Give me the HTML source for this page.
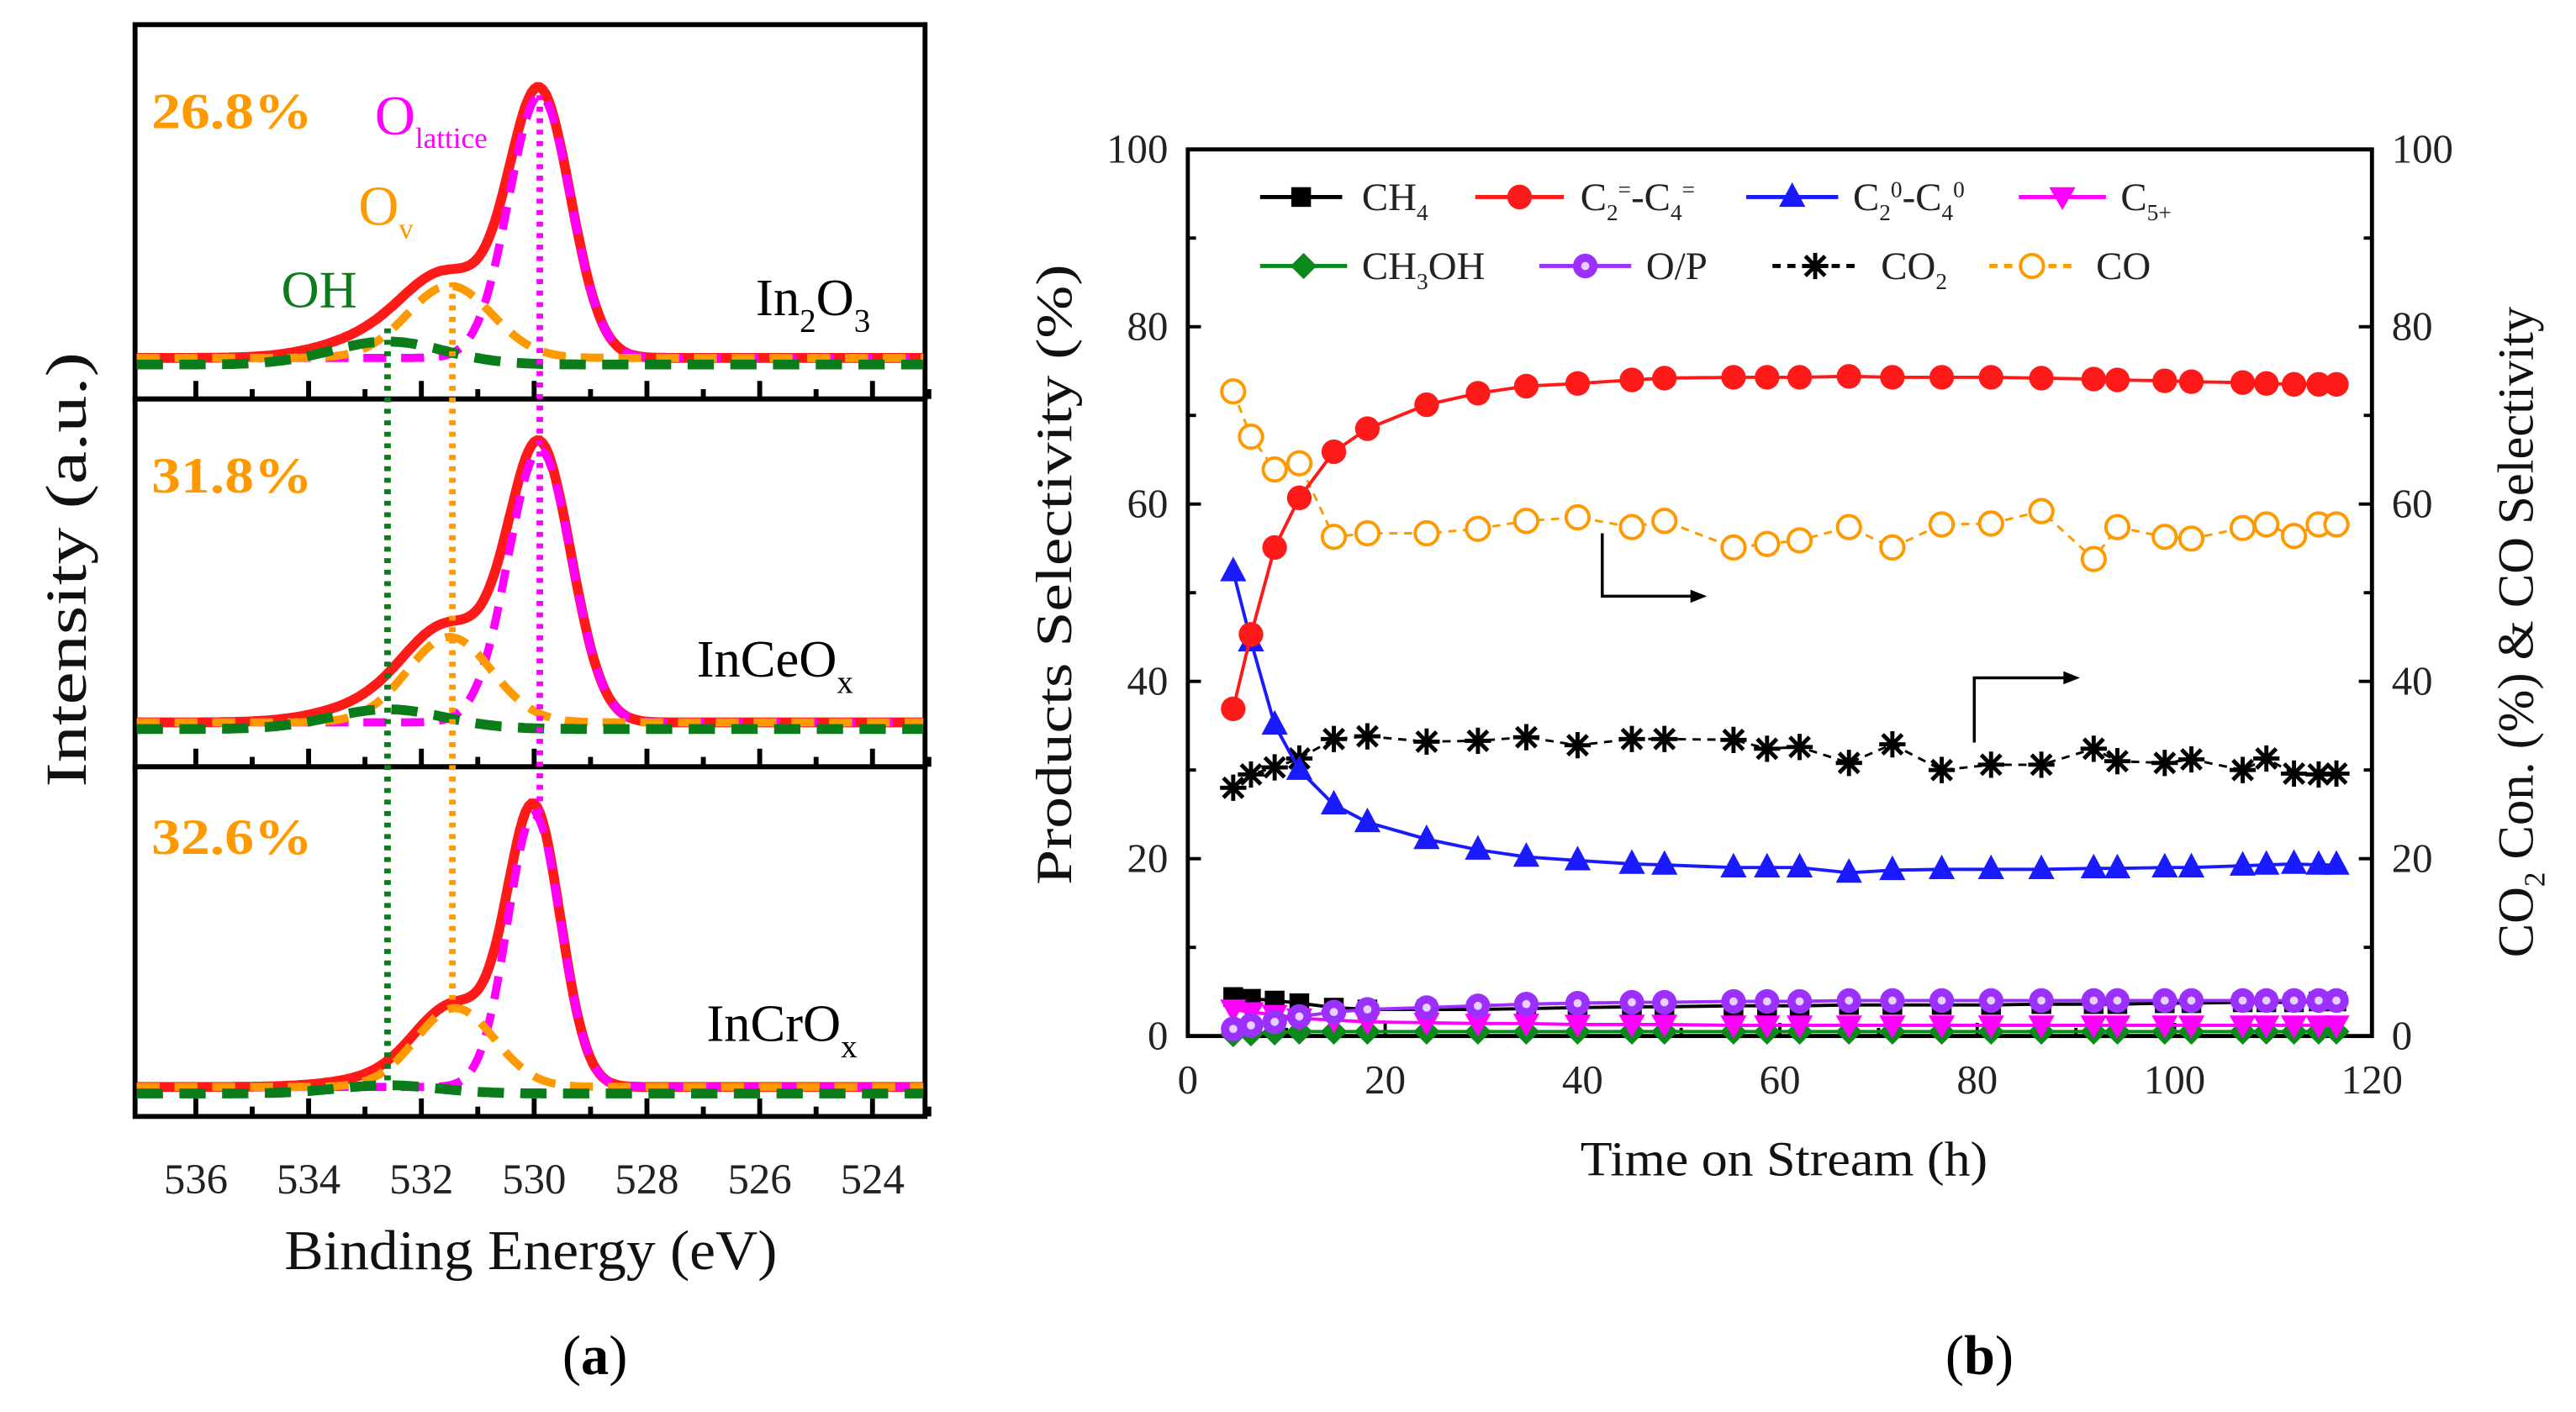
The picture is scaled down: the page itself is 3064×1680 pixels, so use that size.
<!DOCTYPE html>
<html><head><meta charset="utf-8"><style>
html,body{margin:0;padding:0;background:#fff}
svg{display:block}
text{font-family:"Liberation Serif",serif}
</style></head><body>
<svg id="fig" width="3064" height="1680" viewBox="0 0 1568 860" xmlns="http://www.w3.org/2000/svg">
<g id="pa"></g>
<g id="pb"></g>
</svg>
<script>
// ===== Panel (a) data =====
const xpsSamples = ["In2O3","InCeOx","InCrOx"];
const xpsPercents = ["26.8%","31.8%","32.6%"];
const latticeCenter = [529.9, 529.9, 530.0];
const latticeHeight = [160, 166, 166];
const latticeSigma = [0.55, 0.56, 0.47];
const ovCenter = [531.5, 531.5, 531.4];
const ovHeight = [44, 52, 48];
const ovSigma = [0.75, 0.75, 0.7];
const ohCenter = [532.6, 532.6, 532.6];
const ohHeight = [14, 12, 5];
const ohSigma = [1.0, 1.0, 0.9];
const xpsTicks = [536,534,532,530,528,526,524];
// ===== Panel (b) data =====
const timeH = [4.6,6.4,8.8,11.3,14.8,18.2,24.2,29.4,34.3,39.5,45,48.3,55.3,58.7,62,67,71.4,76.4,81.4,86.5,91.8,94.2,99,101.7,106.9,109.3,112.1,114.6,116.4];
const c2c4Olefin = [36.9,45.3,55.1,60.7,65.9,68.5,71.2,72.5,73.3,73.6,74.0,74.2,74.3,74.3,74.3,74.4,74.3,74.3,74.3,74.2,74.1,74.0,73.9,73.8,73.7,73.6,73.5,73.5,73.5];
const c2c4Paraffin = [52.4,44.5,35.1,30.0,26.1,24.1,22.2,21.0,20.2,19.8,19.4,19.3,19.0,19.0,19.0,18.4,18.7,18.8,18.8,18.8,18.9,18.9,19.0,19.0,19.2,19.3,19.4,19.3,19.3];
const coSel = [72.7,67.6,63.9,64.6,56.3,56.7,56.7,57.2,58.1,58.5,57.4,58.1,55.1,55.5,55.9,57.4,55.1,57.7,57.8,59.2,53.8,57.4,56.3,56.1,57.3,57.7,56.4,57.7,57.7];
const co2Conv = [28.0,29.5,30.3,31.3,33.5,33.8,33.2,33.3,33.7,32.8,33.5,33.5,33.4,32.4,32.6,30.8,32.9,30.0,30.6,30.6,32.4,31.0,30.8,31.2,30.0,31.3,29.6,29.5,29.6];
const ch4Sel = [4.4,4.2,4.0,3.7,3.2,3.0,3.0,3.0,3.1,3.2,3.3,3.3,3.4,3.4,3.4,3.5,3.5,3.5,3.5,3.6,3.6,3.6,3.7,3.7,3.8,3.8,3.8,3.9,3.9];
const opRatio = [0.8,1.2,1.6,2.2,2.7,3.0,3.2,3.4,3.6,3.7,3.8,3.8,3.9,3.9,3.9,4.0,4.0,4.0,4.0,4.0,4.0,4.0,4.0,4.0,4.0,4.0,4.0,4.0,4.0];
const c5Sel = [3.0,2.7,2.4,2.0,1.8,1.6,1.5,1.4,1.4,1.3,1.3,1.3,1.2,1.2,1.2,1.2,1.2,1.2,1.2,1.2,1.2,1.2,1.2,1.2,1.2,1.2,1.2,1.2,1.2];
const ch3ohSel = [0.2,0.3,0.4,0.5,0.5,0.5,0.5,0.5,0.5,0.5,0.5,0.5,0.5,0.5,0.5,0.5,0.5,0.5,0.5,0.5,0.5,0.5,0.5,0.5,0.5,0.5,0.5,0.5,0.5];
const bXTicks = [0,20,40,60,80,100,120];
const bYTicks = [0,20,40,60,80,100];

const NS="http://www.w3.org/2000/svg";
function mk(parent,tag,attrs,txt){const e=document.createElementNS(NS,tag);for(const k in attrs)e.setAttribute(k,attrs[k]);if(attrs.textLength)e.setAttribute('lengthAdjust','spacingAndGlyphs');if(txt!==undefined)e.textContent=txt;parent.appendChild(e);return e;}

// ---------- Panel (a) ----------
const pa=document.getElementById('pa');
const aL=82,aR=563,aTop=15;
const subTop=[15,243,467], subBot=[243,467,680], baseY=[218,440,662];
const ex=E=>119+(536-E)*(412/12);
const g=(E,c,h,s)=>h*Math.exp(-((E-c)*(E-c))/(2*s*s));
function pathFrom(fn){let d="";for(let E=537.05;E>=523.1;E-=0.05){d+=(d?"L":"M")+ex(E).toFixed(1)+","+fn(E).toFixed(1);}return d;}
for(let i=0;i<3;i++){
  const by=baseY[i];
  const box=mk(pa,'rect',{x:aL,y:subTop[i],width:aR-aL,height:subBot[i]-subTop[i],fill:'none',stroke:'#000','stroke-width':3});
  
  
  xpsTicks.forEach(t=>{const l=mk(pa,'line',{x1:ex(t),x2:ex(t),y1:subBot[i],y2:subBot[i]-11,stroke:'#000','stroke-width':3});
    
    if(t>523.5){const m=mk(pa,'line',{x1:ex(t-1),x2:ex(t-1),y1:subBot[i],y2:subBot[i]-6,stroke:'#000','stroke-width':3});
    }});
  const fLat=E=>by-g(E,latticeCenter[i],latticeHeight[i],latticeSigma[i]);
  const fOv=E=>by-g(E,ovCenter[i],ovHeight[i],ovSigma[i]);
  const fOh=E=>by+4-g(E,ohCenter[i],ohHeight[i],ohSigma[i]);
  const fTot=E=>by-g(E,latticeCenter[i],latticeHeight[i],latticeSigma[i])-g(E,ovCenter[i],ovHeight[i],ovSigma[i])-g(E,ohCenter[i],ohHeight[i],ohSigma[i]);
  const raw=mk(pa,'path',{d:pathFrom(fTot),fill:'none',stroke:'#000','stroke-width':2});
  
  const tot=mk(pa,'path',{d:pathFrom(fTot),fill:'none',stroke:'#ff1a1a','stroke-width':6});
  
  const lat=mk(pa,'path',{d:pathFrom(fLat),fill:'none',stroke:'#ff00ff','stroke-width':5,'stroke-dasharray':'14 9'});
  
  const ov=mk(pa,'path',{d:pathFrom(fOv),fill:'none',stroke:'#ff9900','stroke-width':5,'stroke-dasharray':'14 9'});
  
  const oh=mk(pa,'path',{d:pathFrom(fOh),fill:'none',stroke:'#0a7d1a','stroke-width':6,'stroke-dasharray':'16 10'});
  
  const pc=mk(pa,'text',{x:92,y:[78,300,520][i],fill:'#ff9900','font-size':31,'font-weight':'bold',textLength:98},xpsPercents[i]);
  
}
// dotted guides
[[532.6,'#0a7d1a',200],[531.45,'#ff9900',172],[529.9,'#ff00ff',58]].forEach((d,k)=>{
  const l=mk(pa,'line',{x1:ex(d[0]),x2:ex(d[0]),y1:d[2],y2:[660,615,495][k],stroke:d[1],'stroke-width':4,'stroke-dasharray':'3 4'});
  
});
let t;
t=mk(pa,'text',{x:228,y:82,fill:'#ff00ff','font-size':34});t.innerHTML='O<tspan font-size="18" dy="8">lattice</tspan>';

t=mk(pa,'text',{x:218,y:137,fill:'#ff9900','font-size':34});t.innerHTML='O<tspan font-size="18" dy="8">v</tspan>';

t=mk(pa,'text',{x:171,y:187,fill:'#0a7d1a','font-size':32},'OH');

t=mk(pa,'text',{x:460,y:192,fill:'#000','font-size':32});t.innerHTML='In<tspan font-size="20" dy="10">2</tspan><tspan dy="-10">O</tspan><tspan font-size="20" dy="10">3</tspan>';

t=mk(pa,'text',{x:424,y:412,fill:'#000','font-size':32});t.innerHTML='InCeO<tspan font-size="20" dy="10">x</tspan>';

t=mk(pa,'text',{x:430,y:634,fill:'#000','font-size':32});t.innerHTML='InCrO<tspan font-size="20" dy="10">x</tspan>';

xpsTicks.forEach(v=>{const e=mk(pa,'text',{x:ex(v),y:727,'text-anchor':'middle','font-size':26,fill:'#222'},String(v));
  });
t=mk(pa,'text',{x:323,y:773,'text-anchor':'middle','font-size':34,fill:'#111',textLength:300},'Binding Energy (eV)');

t=mk(pa,'text',{x:0,y:0,'text-anchor':'middle','font-size':35,fill:'#111',textLength:265,transform:'translate(52,347) rotate(-90)'},'Intensity (a.u.)');

t=mk(pa,'text',{x:362,y:837,'text-anchor':'middle','font-size':34,fill:'#000'});t.innerHTML='(<tspan font-weight="bold">a</tspan>)';


// ---------- Panel (b) ----------
const pb=document.getElementById('pb');
const bL=723,bR=1444,bT=91,bB=631;
const xs=h=>bL+h*(bR-bL)/120;
const ys=v=>bB-v*(bB-bT)/100;
const fr=mk(pb,'rect',{x:bL,y:bT,width:bR-bL,height:bB-bT,fill:'none',stroke:'#000','stroke-width':2.5});

bXTicks.forEach(v=>{const l=mk(pb,'line',{x1:xs(v),x2:xs(v),y1:bB,y2:bB-8,stroke:'#000','stroke-width':2});
  
  if(v<120){const m=mk(pb,'line',{x1:xs(v+10),x2:xs(v+10),y1:bB,y2:bB-5,stroke:'#000','stroke-width':2});}
  const e=mk(pb,'text',{x:xs(v),y:bB+35,'text-anchor':'middle','font-size':25,fill:'#222'},String(v));
  });
bYTicks.forEach(v=>{[[bL,1],[bR,-1]].forEach(s=>{const l=mk(pb,'line',{x1:s[0],x2:s[0]+8*s[1],y1:ys(v),y2:ys(v),stroke:'#000','stroke-width':2});
  
  if(v<100){const m=mk(pb,'line',{x1:s[0],x2:s[0]+5*s[1],y1:ys(v+10),y2:ys(v+10),stroke:'#000','stroke-width':2});}});
  const e=mk(pb,'text',{x:bL-12,y:ys(v)+8,'text-anchor':'end','font-size':25,fill:'#222'},String(v));
  
  const r=mk(pb,'text',{x:bR+12,y:ys(v)+8,'text-anchor':'start','font-size':25,fill:'#222'},String(v));
  });

function marker(parent,type,cx,cy,color,name){
  let e;
  if(type==='square')e=mk(parent,'rect',{x:cx-6,y:cy-6,width:12,height:12,fill:color});
  else if(type==='circle')e=mk(parent,'circle',{cx,cy,r:7.5,fill:color});
  else if(type==='tri')e=mk(parent,'polygon',{points:`${cx},${cy-9} ${cx-8},${cy+6} ${cx+8},${cy+6}`,fill:color});
  else if(type==='dtri')e=mk(parent,'polygon',{points:`${cx},${cy+8} ${cx-8},${cy-6} ${cx+8},${cy-6}`,fill:color});
  else if(type==='diamond')e=mk(parent,'polygon',{points:`${cx},${cy-8} ${cx+8},${cy} ${cx},${cy+8} ${cx-8},${cy}`,fill:color});
  else if(type==='ocircle')e=mk(parent,'circle',{cx,cy,r:7,fill:'#fff',stroke:color,'stroke-width':2});
  else if(type==='pcircle'){e=mk(parent,'circle',{cx,cy,r:7.5,fill:color});const h=mk(parent,'circle',{cx:cx,cy:cy,r:2.5,fill:'#e8d0ff'});}
  else if(type==='star'){e=mk(parent,'path',{d:`M${cx-8},${cy}L${cx+8},${cy}M${cx},${cy-8}L${cx},${cy+8}M${cx-6},${cy-6}L${cx+6},${cy+6}M${cx-6},${cy+6}L${cx+6},${cy-6}`,stroke:color,'stroke-width':2.5});}
  
  
}
const seriesDefs=[
 {vals:ch4Sel,color:'#000',m:'square',dash:null,w:2,name:'ch4'},
 {vals:ch3ohSel,color:'#0a8a1a',m:'diamond',dash:null,w:2,name:'ch3oh'},
 {vals:c5Sel,color:'#ff00ff',m:'dtri',dash:null,w:2,name:'c5plus'},
 {vals:opRatio,color:'#9b30ff',m:'pcircle',dash:null,w:2,name:'op-ratio'},
 {vals:coSel,color:'#ff9900',m:'ocircle',dash:'5 4',w:1.5,name:'co-selectivity'},
 {vals:co2Conv,color:'#000',m:'star',dash:'5 4',w:1.5,name:'co2-conversion'},
 {vals:c2c4Paraffin,color:'#1a1aff',m:'tri',dash:null,w:2,name:'c2-c4-paraffin'},
 {vals:c2c4Olefin,color:'#ff1a1a',m:'circle',dash:null,w:2,name:'c2-c4-olefin'}];
seriesDefs.forEach(s=>{
  const sg=mk(pb,'g',{});
  
  const d=s.vals.map((v,i)=>(i?'L':'M')+xs(timeH[i]).toFixed(1)+','+ys(v).toFixed(1)).join('');
  const a={d,fill:'none',stroke:s.color,'stroke-width':s.w};if(s.dash)a['stroke-dasharray']=s.dash;
  const p=mk(sg,'path',a);
  s.vals.forEach((v,i)=>marker(sg,s.m,xs(timeH[i]),ys(v),s.color,s.name+'-point'));
});
// arrows
function arrow(x0,y0,y1,x2,name){const p=mk(pb,'path',{d:`M${xs(x0)},${ys(y0)}L${xs(x0)},${ys(y1)}L${xs(x2)-8},${ys(y1)}`,fill:'none',stroke:'#000','stroke-width':1.8});
 
 const h=mk(pb,'polygon',{points:`${xs(x2)},${ys(y1)} ${xs(x2)-10},${ys(y1)-4} ${xs(x2)-10},${ys(y1)+4}`,fill:'#000'});
 }
arrow(42,56.7,49.6,52.6,'co-right-axis-arrow');
arrow(79.7,33.1,40.4,90.4,'co2-right-axis-arrow');
// legend
const leg=mk(pb,'g',{});
const legItems=[
 [767,817,120,'square','#000','CH<tspan font-size="14" dy="6">4</tspan>',829,null],
 [898,952,120,'circle','#ff1a1a','C<tspan font-size="14" dy="6">2</tspan><tspan font-size="14" dy="-14">=</tspan><tspan dy="8">-C</tspan><tspan font-size="14" dy="6">4</tspan><tspan font-size="14" dy="-14">=</tspan>',962,null],
 [1063,1119,120,'tri','#1a1aff','C<tspan font-size="14" dy="6">2</tspan><tspan font-size="14" dy="-14">0</tspan><tspan dy="8">-C</tspan><tspan font-size="14" dy="6">4</tspan><tspan font-size="14" dy="-14">0</tspan>',1128,null],
 [1229,1282,120,'dtri','#ff00ff','C<tspan font-size="14" dy="6">5+</tspan>',1291,null],
 [767,820,162,'diamond','#0a8a1a','CH<tspan font-size="14" dy="6">3</tspan><tspan dy="-6">OH</tspan>',829,null],
 [937,993,162,'pcircle','#9b30ff','O/P',1002,null],
 [1079,1131,162,'star','#000','CO<tspan font-size="14" dy="6">2</tspan>',1145,'5 4'],
 [1211,1263,162,'ocircle','#ff9900','CO',1276,'5 4']];
const legNames=['ch4','c2-c4-olefin','c2-c4-paraffin','c5plus','ch3oh','op-ratio','co2','co'];
legItems.forEach((it,k)=>{
  const a={x1:it[0],x2:it[1],y1:it[2],y2:it[2],stroke:it[4],'stroke-width':2.5};if(it[7])a['stroke-dasharray']=it[7];
  const l=mk(leg,'line',a);
  marker(leg,it[3],(it[0]+it[1])/2,it[2],it[4],'legend-marker-'+legNames[k]);
  const tx=mk(leg,'text',{x:it[6],y:it[2]+8,'font-size':24,fill:'#222'});tx.innerHTML=it[5];
  
});
t=mk(pb,'text',{x:1086,y:716,'text-anchor':'middle','font-size':30,fill:'#111',textLength:248},'Time on Stream (h)');

t=mk(pb,'text',{x:0,y:0,'text-anchor':'middle','font-size':31,fill:'#111',textLength:378,transform:'translate(652,350) rotate(-90)'},'Products Selectivity (%)');

t=mk(pb,'text',{x:0,y:0,'text-anchor':'middle','font-size':31,fill:'#111',transform:'translate(1542,385) rotate(-90)'});
t.innerHTML='CO<tspan font-size="18" dy="7">2</tspan><tspan dy="-7"> Con. (%) &amp; CO Selectivity</tspan>';

t=mk(pb,'text',{x:1205,y:837,'text-anchor':'middle','font-size':34,fill:'#000'});t.innerHTML='(<tspan font-weight="bold">b</tspan>)';

</script>
</body></html>
